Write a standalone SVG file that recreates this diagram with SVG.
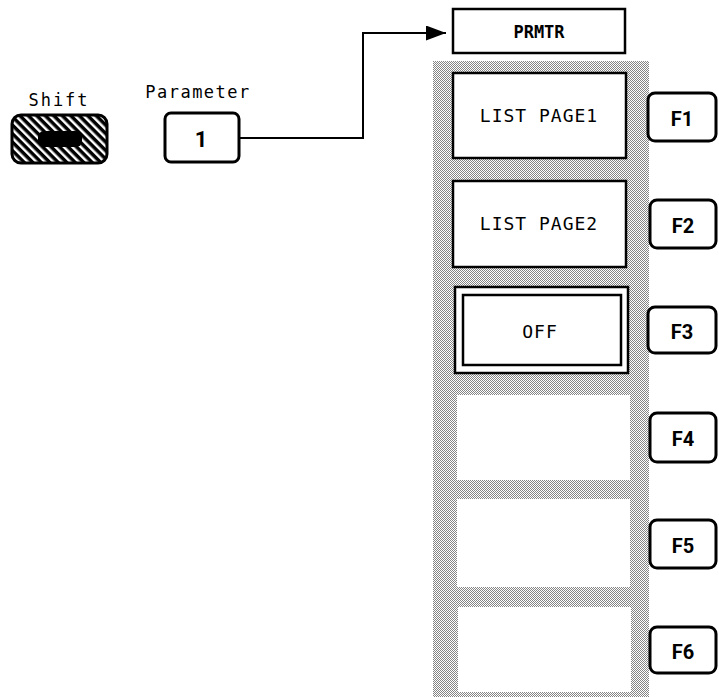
<svg xmlns="http://www.w3.org/2000/svg" width="719" height="697" viewBox="0 0 719 697">
<defs>
<pattern id="dots" width="2" height="2" patternUnits="userSpaceOnUse">
<rect width="2" height="2" fill="#fff"/>
<rect x="0" y="0" width="1" height="1" fill="#858585"/>
<rect x="1" y="1" width="1" height="1" fill="#858585"/>
</pattern>
<pattern id="hatch" width="6" height="6" patternUnits="userSpaceOnUse" patternTransform="rotate(45)">
<rect width="6" height="6" fill="#fff"/>
<rect width="6" height="3.5" fill="#000"/>
</pattern>
<marker id="arr" viewBox="0 0 20 15" refX="20" refY="7.5" markerWidth="20" markerHeight="15" markerUnits="userSpaceOnUse" orient="auto">
<path d="M0,0 L20,7.5 L0,15 z" fill="#000"/>
</marker>
</defs>
<style>
.mono{font-family:"DejaVu Sans Mono","Liberation Mono",monospace;fill:#000}
.key{fill:#fff;stroke:#000;stroke-width:3}
.fk{font-family:Roboto,"DejaVu Sans",sans-serif;font-weight:bold;font-size:20px;text-anchor:middle;fill:#000}
.box{fill:#fff;stroke:#000;stroke-width:2.5}
.conn{fill:none;stroke:#000;stroke-width:2}
</style>
<rect width="719" height="697" fill="#fff"/>

<g id="shift">
<text class="mono" x="59" y="106" font-size="17" letter-spacing="2" text-anchor="middle">Shift</text>
<rect x="12" y="115" width="95" height="48" rx="9" fill="url(#hatch)" stroke="#000" stroke-width="3"/>
<rect x="38" y="131" width="44" height="16" rx="6" fill="#000"/>
</g>

<g id="param-key">
<text class="mono" x="198" y="98" font-size="17" letter-spacing="1.5" text-anchor="middle">Parameter</text>
<rect class="key" x="165" y="113" width="74" height="49" rx="6"/>
<text x="201" y="147" font-family="Roboto,'DejaVu Sans',sans-serif" font-weight="bold" font-size="22" text-anchor="middle">1</text>
</g>

<g id="connectors">
<path class="conn" d="M239,138 H363 V33 H446" marker-end="url(#arr)"/>
</g>

<g id="prmtr">
<rect class="box" x="453" y="9" width="172" height="44"/>
<text class="mono" x="539" y="38" font-size="17" font-weight="bold" text-anchor="middle">PRMTR</text>
</g>

<g id="menu-panel">
<rect x="433" y="61" width="216" height="636" fill="url(#dots)"/>
</g>

<g id="list-page1">
<rect class="box" x="453" y="73" width="173" height="85"/>
<text class="mono" x="539" y="122" font-size="18" letter-spacing="1" text-anchor="middle">LIST PAGE1</text>
</g>
<g id="list-page2">
<rect class="box" x="453" y="181" width="173" height="86"/>
<text class="mono" x="539" y="230" font-size="18" letter-spacing="1" text-anchor="middle">LIST PAGE2</text>
</g>
<g id="off">
<rect class="box" x="455" y="287" width="173" height="86"/>
<rect class="box" x="463" y="295" width="158" height="70"/>
<text class="mono" x="540" y="338" font-size="18" letter-spacing="1" text-anchor="middle">OFF</text>
</g>
<g id="slot4"><rect x="457" y="395" width="173" height="85" fill="#fff"/></g>
<g id="slot5"><rect x="457" y="499" width="173" height="88" fill="#fff"/></g>
<g id="slot6"><rect x="458" y="607" width="173" height="85" fill="#fff"/></g>

<g id="F1"><rect class="key" x="648" y="93" width="68" height="48" rx="7"/><text class="fk" x="682" y="126">F1</text></g>
<g id="F2"><rect class="key" x="650" y="200" width="66" height="48" rx="7"/><text class="fk" x="683" y="233">F2</text></g>
<g id="F3"><rect class="key" x="648" y="307" width="68" height="46" rx="7"/><text class="fk" x="682" y="339">F3</text></g>
<g id="F4"><rect class="key" x="650" y="413" width="66" height="49" rx="7"/><text class="fk" x="683" y="446">F4</text></g>
<g id="F5"><rect class="key" x="650" y="520" width="66" height="48" rx="7"/><text class="fk" x="683" y="553">F5</text></g>
<g id="F6"><rect class="key" x="650" y="627" width="66" height="46" rx="7"/><text class="fk" x="683" y="659">F6</text></g>
</svg>
